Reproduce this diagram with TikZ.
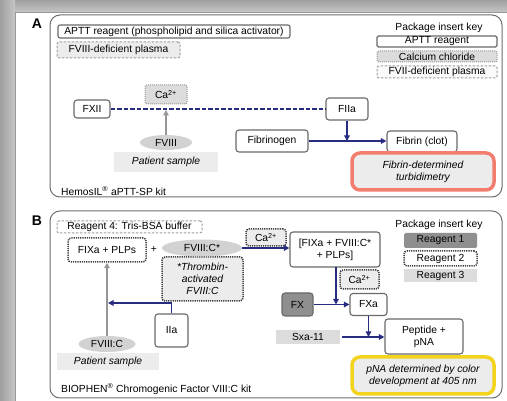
\documentclass[tikz,border=0pt]{standalone}
\usepackage{fontspec}
\setmainfont{Liberation Sans}
\usetikzlibrary{arrows.meta,shapes.geometric}
\definecolor{navy}{RGB}{40,44,128}
\definecolor{bordgray}{RGB}{105,105,105}
\definecolor{panelgray}{RGB}{110,110,110}
\definecolor{lightfill}{RGB}{236,236,236}
\definecolor{midfill}{RGB}{220,220,220}
\definecolor{darkfill}{RGB}{143,143,143}
\definecolor{ellgray}{RGB}{210,210,210}
\definecolor{arrgray}{RGB}{150,150,150}
\definecolor{salmon}{RGB}{242,125,110}
\definecolor{ylw}{RGB}{242,212,30}
\tikzset{
  lbl/.style={font=\fontsize{10.3}{11.8}\selectfont, inner sep=0pt},
  bx/.style={lbl, draw=bordgray, line width=1.1pt, rounded corners=3pt, fill=white, align=center},
  dotbx/.style={lbl, draw=black!75, line width=1.5pt, dash pattern=on 1.2pt off 1pt, rounded corners=3pt, align=center},
  dashbx/.style={lbl, draw=gray!75, line width=1pt, dash pattern=on 2.5pt off 1.5pt, rounded corners=2pt, align=center},
  dotgray/.style={lbl, draw=gray!80, line width=1pt, dash pattern=on 1pt off 1pt, rounded corners=2pt, align=center},
  plain/.style={lbl, draw=none, align=center},
  grayell/.style={lbl, ellipse, fill=ellgray, draw=none},
  nav/.style={draw=navy, line width=1.3pt, -{Triangle[length=5.5pt,width=5.5pt]}},
  garr/.style={draw=arrgray, line width=1.4pt, -{Triangle[length=5.5pt,width=5.5pt]}},
  panel/.style={draw=panelgray, line width=1pt, rounded corners=10pt},
  result/.style={lbl, line width=3.5pt, rounded corners=8pt, fill=lightfill, align=center, font=\fontsize{10.3}{12.3}\selectfont\itshape},
  plab/.style={inner sep=0pt, font=\fontsize{14}{14}\selectfont\bfseries}
}
\begin{document}
\begin{tikzpicture}[x=1pt,y=-1pt]
\useasboundingbox (0,0) rectangle (507,401);
% frame / shadow
\fill[gray!55] (0,0) rectangle (507,401);
\shade[top color=gray!75, bottom color=gray!45] (0,0) rectangle (507,12);
\shade[left color=gray!75, right color=gray!45] (0,0) rectangle (15,401);
\fill[white, draw=gray!80, line width=0.6pt] (15,12) rectangle (508,402);

% ---------------- Panel A ----------------
\draw[panel] (50,15) rectangle (502,197);
\node[plab] (labA) at (37,24) {A};
\node[bx, minimum width=232, minimum height=13, rounded corners=2pt] (aptt) at (174,31.5) {APTT reagent (phospholipid and silica activator)};
\node[dashbx, fill=lightfill, minimum width=123, minimum height=16] (fviiidef) at (118.5,50) {FVIII-deficient plasma};

\node[plain] (keyA) at (439,28) {Package insert key};
\node[bx, minimum width=120, minimum height=11, rounded corners=1.5pt] (keyapt) at (437,41.5) {APTT reagent};
\node[dotgray, fill=midfill, minimum width=120, minimum height=11] (keyca) at (437,56.5) {Calcium chloride};
\node[dashbx, fill=white!96!gray, minimum width=120, minimum height=12] (keyfvii) at (437,72) {FVII-deficient plasma};

\node[bx, minimum width=36, minimum height=18] (fxii) at (92,109) {FXII};
\node[dotgray, fill=midfill, minimum width=42, minimum height=19] (caA) at (166,94.5) {Ca\textsuperscript{2+}};
\node[bx, minimum width=42, minimum height=22] (fiia) at (347,109) {FIIa};
\draw[navy, line width=1.3pt, dash pattern=on 4.5pt off 2pt] (fxii.east) -- (fiia.west);
\coordinate (jA) at (166,110);
\node[grayell, minimum width=52, minimum height=15] (fviii) at (166,142.5) {FVIII};
\draw[garr] (fviii.north) -- (jA);
\node[plain, fill=lightfill, minimum width=104, minimum height=20, font=\fontsize{10.3}{11.8}\selectfont\itshape] (patA) at (166,162) {Patient sample};
\node[lbl, anchor=west] (hemo) at (61,191) {HemosIL\textsuperscript{®} aPTT-SP kit};

\node[bx, minimum width=72, minimum height=22] (fgn) at (272,141) {Fibrinogen};
\node[bx, minimum width=70, minimum height=21] (fbn) at (422,141.5) {Fibrin (clot)};
\draw[nav] (fgn.east) -- (fbn.west |- fgn.east);
\draw[nav] (fiia.south) -- (fiia.south |- fgn.east);
\node[result, draw=salmon, minimum width=142, minimum height=37] (turb) at (423,171.5) {Fibrin-determined\\turbidimetry};

% ---------------- Panel B ----------------
\draw[panel] (50,211) rectangle (502,398);
\node[plab] (labB) at (37,221) {B};
\node[dashbx, fill=white, minimum width=145, minimum height=12] (reag4) at (129.5,227) {Reagent 4: Tris-BSA buffer};
\node[dotbx, fill=white, minimum width=78, minimum height=24] (fixa) at (107,250) {FIXa + PLPs};
\node[lbl] (plus) at (154,250) {+};
\node[dotbx, fill=lightfill, minimum width=81, minimum height=44, font=\fontsize{10.3}{11.8}\selectfont\itshape] (thromb) at (202.5,279) {*Thrombin-\\activated\\FVIII:C};
\node[grayell, minimum width=80, minimum height=17] (fviiic) at (202,248) {FVIII:C*};
\node[dotbx, fill=lightfill, minimum width=40, minimum height=17] (caB) at (266,237.5) {Ca\textsuperscript{2+}};
\node[bx, minimum width=90, minimum height=35] (cplx) at (335,249.5) {[FIXa + FVIII:C*\\+ PLPs]};
\draw[nav] (fviiic.east) -- (cplx.west |- fviiic.east);

\node[plain] (keyB) at (439,225) {Package insert key};
\node[plain, fill=darkfill, minimum width=73, minimum height=15, rounded corners=1.5pt] (r1) at (440.5,240.5) {Reagent 1};
\node[dotbx, fill=white, minimum width=73, minimum height=15] (r2) at (440.5,258.5) {Reagent 2};
\node[plain, fill=midfill, minimum width=73, minimum height=13] (r3) at (440.5,275.5) {Reagent 3};

\node[dotbx, fill=lightfill, minimum width=39, minimum height=19] (caB2) at (359.5,279.5) {Ca\textsuperscript{2+}};
\node[bx, fill=darkfill, minimum width=31, minimum height=23] (fx) at (297.5,304.5) {FX};
\node[bx, minimum width=37, minimum height=22] (fxa) at (368.5,304.5) {FXa};
\draw[nav] (fx.east) -- (fxa.west);
\coordinate (cplxb) at (336,267);
\draw[nav] (cplxb) -- (cplxb |- fxa.west);
\node[plain, fill=midfill, minimum width=64, minimum height=14] (sxa) at (308,337) {Sxa-11};
\node[bx, minimum width=78, minimum height=35] (pep) at (424,336.5) {Peptide +\\pNA};
\draw[nav] ([xshift=2pt]sxa.east) -- (pep.west |- sxa.east);
\draw[nav] (fxa.south) -- (fxa.south |- sxa.east);
\node[result, draw=ylw, minimum width=142, minimum height=37] (pna) at (423,375.5) {pNA determined by color\\development at 405 nm};

\node[grayell, minimum width=57, minimum height=16] (fviiicB) at (107,344) {FVIII:C};
\node[plain, fill=lightfill, minimum width=102, minimum height=17, font=\fontsize{10.3}{11.8}\selectfont\itshape] (patB) at (108,361.5) {Patient sample};
\draw[garr] (fviiicB.north) -- (fixa.south);
\node[bx, minimum width=33, minimum height=33] (iia) at (171.5,330.5) {IIa};
\coordinate (jB) at (108,303);
\draw[nav] (iia.north) |- (jB);
\node[lbl, anchor=west] (bioph) at (61,389) {BIOPHEN\textsuperscript{®} Chromogenic Factor VIII:C kit};
\end{tikzpicture}
\end{document}
